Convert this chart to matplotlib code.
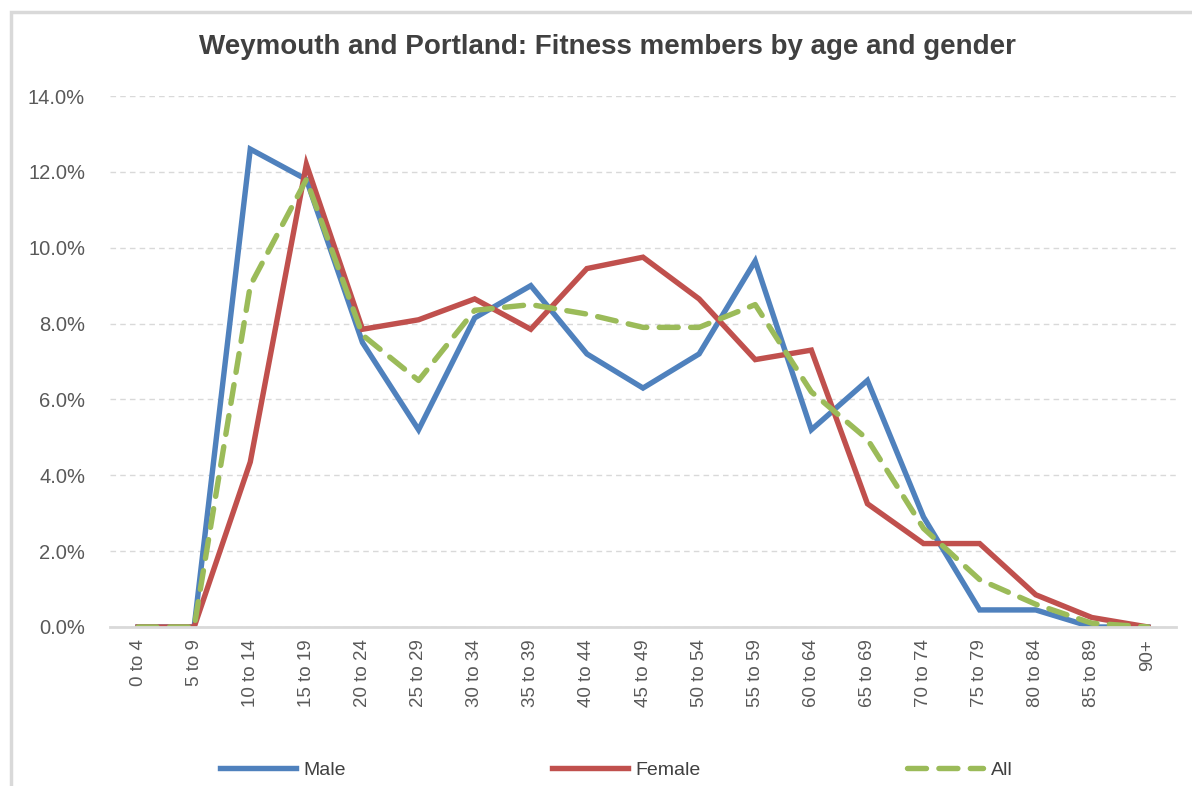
import numpy as np
import matplotlib
matplotlib.use('Agg')
import matplotlib.pyplot as plt
from matplotlib.patches import Rectangle
from matplotlib.ticker import PercentFormatter

plt.rcParams['font.family'] = ['Liberation Sans', 'DejaVu Sans']

# age bands
ages = ['0 to 4', '5 to 9', '10 to 14', '15 to 19', '20 to 24', '25 to 29',
        '30 to 34', '35 to 39', '40 to 44', '45 to 49', '50 to 54', '55 to 59',
        '60 to 64', '65 to 69', '70 to 74', '75 to 79', '80 to 84', '85 to 89', '90+']

# share of members (%)
male = [0, 0, 12.6, 11.8, 7.5, 5.2, 8.15, 9.0, 7.2, 6.3, 7.2, 9.65,
        5.2, 6.5, 2.9, 0.45, 0.45, 0, 0]
female = [0, 0, 4.35, 12.2, 7.85, 8.1, 8.65, 7.85, 9.45, 9.75, 8.65, 7.05,
          7.3, 3.25, 2.2, 2.2, 0.85, 0.25, 0]
all_members = [0, 0, 9.0, 11.8, 7.7, 6.5, 8.35, 8.5, 8.25, 7.9, 7.9, 8.5,
               6.2, 4.95, 2.6, 1.25, 0.6, 0.1, 0]

blue = '#4F81BD'
red = '#C0504D'
green = '#9BBB59'
grey_txt = '#595959'

fig = plt.figure(figsize=(11.92, 7.86), dpi=100)

# chart border (cropped at right/bottom like the screenshot)
fig.patches.append(Rectangle((11 / 1192, -0.05), 1.2, 1 - 12 / 786 + 0.05,
                             transform=fig.transFigure, fill=False,
                             edgecolor='#D9D9D9', linewidth=2.5))

ax = fig.add_axes([110 / 1192, 1 - 627 / 786, (1176 - 110) / 1192, (627 - 96) / 786])

x = np.arange(len(ages))
ax.plot(x, male, color=blue, lw=3.9, label='Male', solid_joinstyle='miter')
ax.plot(x, female, color=red, lw=3.9, label='Female', solid_joinstyle='miter')
ax.plot(x, all_members, color=green, lw=3.9, label='All', dashes=(3.5, 2.3),
        dash_capstyle='round')

ax.set_xlim(-0.5, len(ages) - 0.5)
ax.set_ylim(0, 14)
ax.set_yticks(np.arange(0, 14.1, 2))
ax.yaxis.set_major_formatter(PercentFormatter(decimals=1))
ax.yaxis.grid(True, color='#D9D9D9', linestyle=(0, (4, 3)), linewidth=1)
ax.set_axisbelow(True)

ax.set_xticks(x)
ax.set_xticklabels(ages, rotation=90, fontsize=13.5, color=grey_txt)
ax.tick_params(axis='y', labelsize=14.5, labelcolor=grey_txt, length=0, pad=18)
ax.tick_params(axis='x', length=0, pad=9)

for s in ['top', 'right', 'left']:
    ax.spines[s].set_visible(False)
ax.spines['bottom'].set_color('#D9D9D9')
ax.spines['bottom'].set_linewidth(2)

fig.text(607 / 1192, 1 - 47 / 786, 'Weymouth and Portland: Fitness members by age and gender',
         ha='center', va='center', fontsize=20, fontweight='bold', color='#404040')

fig.legend(loc='center', bbox_to_anchor=(616 / 1192, 1 - 770 / 786), ncol=3,
           frameon=False, fontsize=14, handlelength=3.9, columnspacing=10.6,
           handletextpad=0.4, labelcolor='#404040')

fig.savefig('out.png', dpi=100)
